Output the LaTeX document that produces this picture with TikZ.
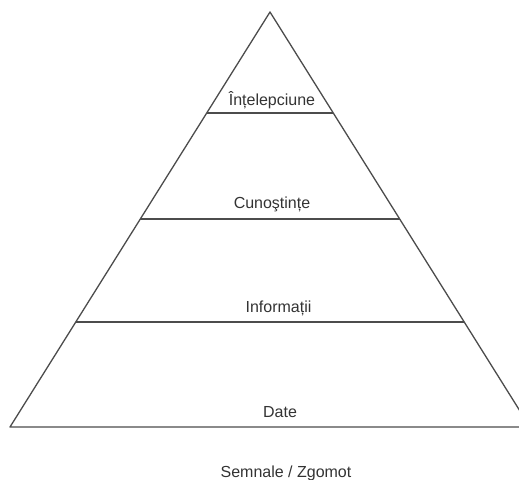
\documentclass[tikz,border=0pt]{standalone}
\usepackage{fontspec}
\setmainfont{Liberation Sans}
\usetikzlibrary{calc}
\begin{document}
\begin{tikzpicture}[x=1pt,y=-1pt,
  edge/.style={draw=black!70,line width=1.3pt},
  lbl/.style={anchor=base,inner sep=0pt,text=black!80,font=\fontsize{16}{18}\selectfont}]
\useasboundingbox (0,0) rectangle (519,479);
\clip (0,0) rectangle (519,479);
\coordinate (A) at (270,12);
\coordinate (L) at (10,427);
\coordinate (R) at (530,427);
\draw[edge,line join=round] (L) -- (A) -- (R) -- cycle;
\draw[edge] ($(A)!0.2434!(L)$) -- ($(A)!0.2434!(R)$);
\draw[edge] ($(A)!0.4988!(L)$) -- ($(A)!0.4988!(R)$);
\draw[edge] ($(A)!0.747!(L)$) -- ($(A)!0.747!(R)$);
\node[lbl] (w) at (272,105) {Înțelepciune};
\node[lbl] (k) at (272,208) {Cunoştințe};
\node[lbl] (i) at (278.5,312) {Informații};
\node[lbl] (d) at (280,417) {Date};
\node[lbl] (s) at (286,477) {Semnale / Zgomot};
\end{tikzpicture}
\end{document}
